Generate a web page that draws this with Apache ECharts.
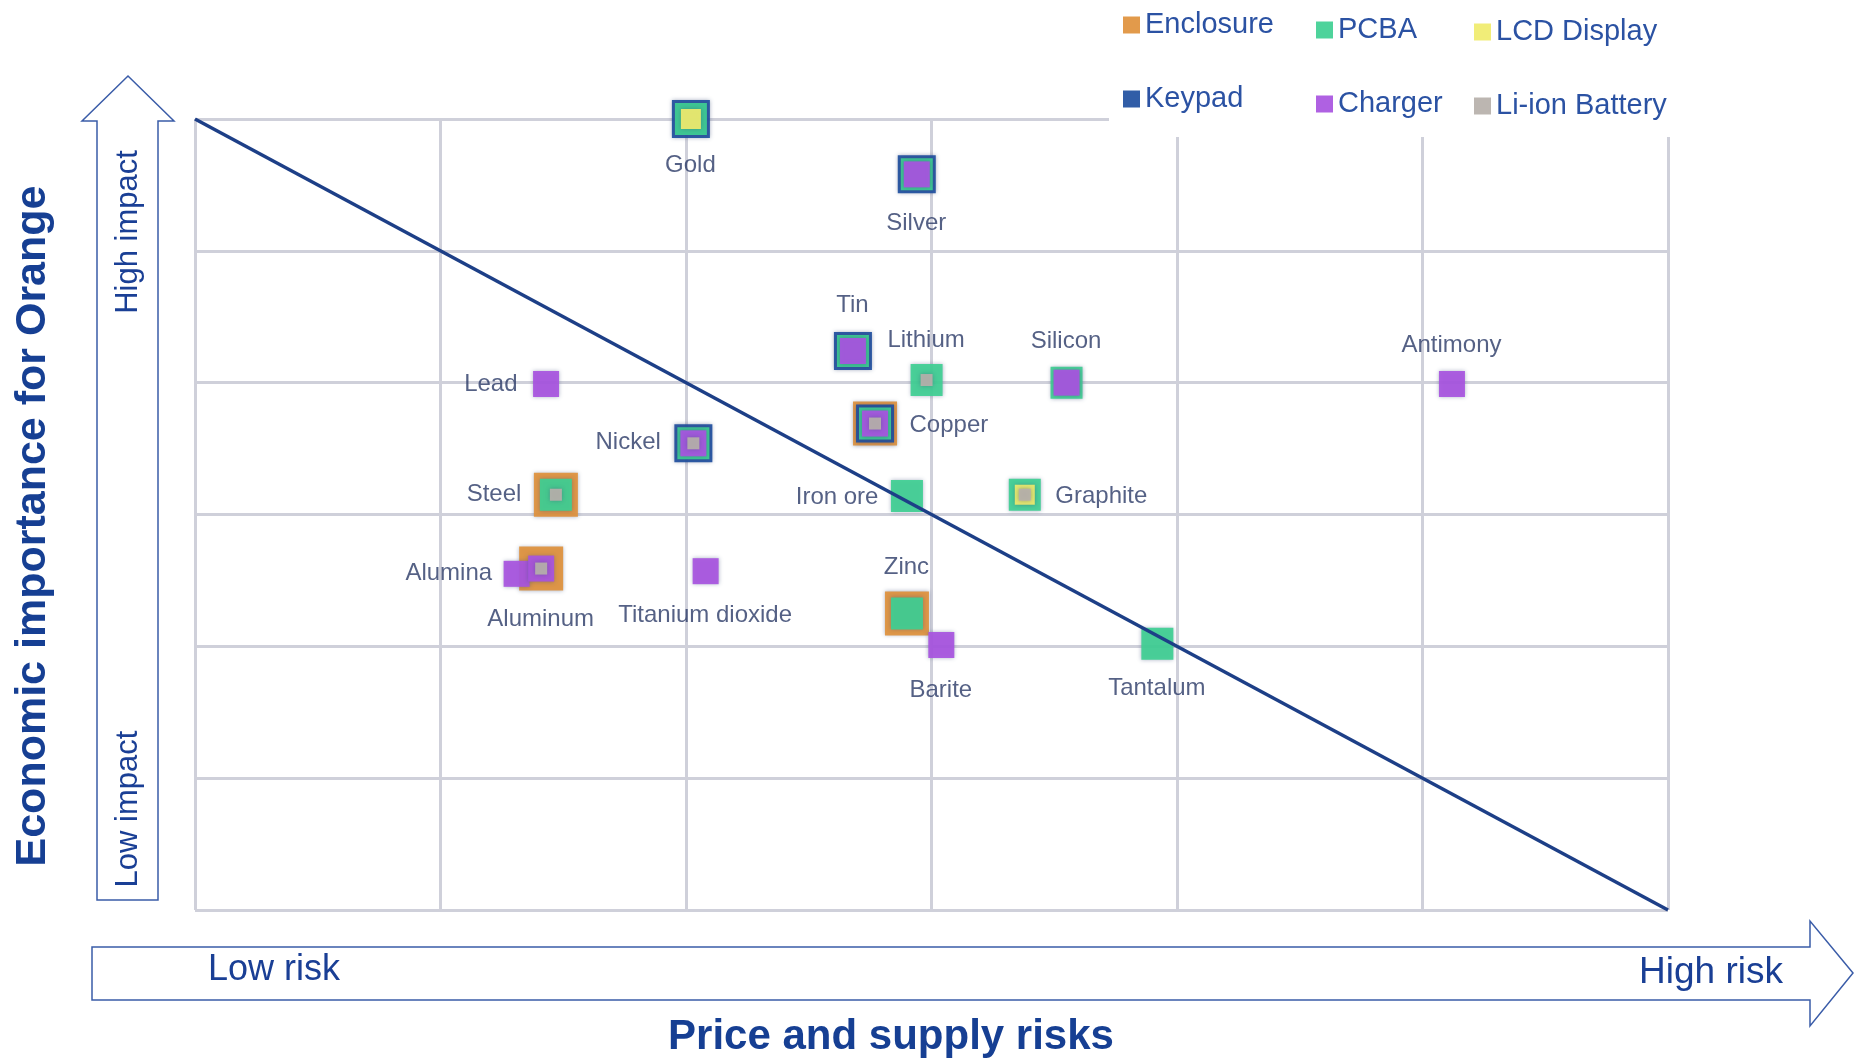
<!DOCTYPE html>
<html>
<head>
<meta charset="utf-8">
<title>Critical materials matrix</title>
<script src="https://cdn.jsdelivr.net/npm/echarts@6/dist/echarts.min.js"></script>
<style>
  html, body { margin: 0; padding: 0; background: #fff; }
  #main { width: 1854px; height: 1059px; }
</style>
</head>
<body>
<div id="main"></div>
<script>
// materials and where they sit (x = price & supply risk, y = economic importance)
const materials = ['Gold', 'Silver', 'Tin', 'Lithium', 'Silicon', 'Antimony', 'Lead', 'Copper', 'Nickel',
  'Steel', 'Iron ore', 'Graphite', 'Alumina', 'Aluminum', 'Titanium dioxide', 'Zinc', 'Barite', 'Tantalum'];
const riskX = [2.02, 2.94, 2.68, 2.98, 3.55, 5.12, 1.43, 2.77, 2.03,
  1.47, 2.9, 3.38, 1.31, 1.41, 2.08, 2.9, 3.04, 3.92];
const impactY = [6.0, 5.58, 4.24, 4.02, 4.0, 3.99, 3.99, 3.69, 3.54,
  3.15, 3.14, 3.15, 2.55, 2.59, 2.57, 2.25, 2.01, 2.02];

// which phone parts use each material
const enclosureItems = ['Copper', 'Steel', 'Aluminum', 'Zinc'];
const keypadItems = ['Gold', 'Silver', 'Tin', 'Copper', 'Nickel'];
const pcbaItems = ['Gold', 'Silver', 'Tin', 'Lithium', 'Silicon', 'Copper', 'Nickel', 'Steel',
  'Iron ore', 'Graphite', 'Zinc', 'Tantalum'];
const chargerItems = ['Silver', 'Tin', 'Silicon', 'Antimony', 'Lead', 'Copper', 'Nickel', 'Alumina',
  'Aluminum', 'Titanium dioxide', 'Barite'];
const lcdItems = ['Gold', 'Graphite'];
const liionItems = ['Lithium', 'Copper', 'Nickel', 'Steel', 'Graphite', 'Aluminum'];

// dividing diagonal
const diagonal = [[0, 6], [6, 0]];
const ticks = [0, 1, 2, 3, 4, 5, 6];

// label placement: [align, dx, dy]
const labelPlace = {
  'Gold': ['center', 0, 47],
  'Silver': ['center', 0, 50],
  'Tin': ['center', 0, -45],
  'Lithium': ['center', 0, -39],
  'Silicon': ['center', 0, -41],
  'Antimony': ['center', 0, -38],
  'Lead': ['right', -28, 1],
  'Copper': ['left', 35, 2],
  'Nickel': ['right', -32, 0],
  'Steel': ['right', -34, 0],
  'Iron ore': ['right', -28, 2],
  'Graphite': ['left', 31, 2],
  'Alumina': ['right', -24, 0],
  'Aluminum': ['center', 0, 51],
  'Titanium dioxide': ['center', 0, 45],
  'Zinc': ['center', 0, -46],
  'Barite': ['center', 0, 46],
  'Tantalum': ['center', 0, 45]
};

const FONT = 'Liberation Sans, Arial, sans-serif';
const NAVY = '#163f93';

function pointsFor(list) {
  return list.map(function (name) {
    const i = materials.indexOf(name);
    return { name: name, value: [riskX[i], impactY[i]] };
  });
}

// one scatter layer per part, bigger squares drawn first
function partSeries(name, list, color, size) {
  return {
    name: name,
    type: 'scatter',
    symbol: 'rect',
    symbolSize: size,
    clip: false,
    itemStyle: {
      color: color,
      opacity: 0.92,
      shadowBlur: 4,
      shadowColor: 'rgba(60, 80, 120, 0.45)'
    },
    data: pointsFor(list)
  };
}

const labelData = materials.map(function (name, i) {
  const p = labelPlace[name];
  return {
    name: name,
    value: [riskX[i], impactY[i]],
    label: {
      show: true,
      position: [p[1], p[2]],
      align: p[0],
      verticalAlign: 'middle'
    }
  };
});

const legendText = { color: '#2b52a3', fontSize: 29, fontFamily: FONT, lineHeight: 30 };
function legendCol(left, top, names) {
  return {
    orient: 'vertical',
    left: left,
    top: top,
    z: 30,
    icon: 'rect',
    itemWidth: 17,
    itemHeight: 17,
    itemGap: 44,
    padding: 0,
    selectedMode: false,
    textStyle: legendText,
    data: names
  };
}

const myChart = echarts.init(document.getElementById('main'));
const option = {
  backgroundColor: '#fff',
  animation: false,
  legend: [
    legendCol(1123, 10, ['Enclosure', 'Keypad']),
    legendCol(1316, 15, ['PCBA', 'Charger']),
    legendCol(1474, 17, ['LCD Display', 'Li-ion Battery'])
  ],
  grid: { left: 195, top: 119, width: 1473, height: 791, outerBoundsMode: 'none' },
  xAxis: {
    type: 'value',
    min: ticks[0],
    max: ticks[ticks.length - 1],
    interval: 1,
    axisLine: { show: false },
    axisTick: { show: false },
    axisLabel: { show: false },
    splitLine: { lineStyle: { color: '#cfd0da', width: 3 } }
  },
  yAxis: {
    type: 'value',
    min: ticks[0],
    max: ticks[ticks.length - 1],
    interval: 1,
    axisLine: { show: false },
    axisTick: { show: false },
    axisLabel: { show: false },
    splitLine: { lineStyle: { color: '#cfd0da', width: 3 } }
  },
  graphic: [
    // white box behind the legend, it hides the top of the grid
    { type: 'rect', z: 10, shape: { x: 1109, y: 0, width: 745, height: 137 }, style: { fill: '#fff' } },
    // up arrow
    {
      type: 'polygon', z: 1,
      shape: { points: [[97, 900], [97, 121], [82, 121], [128, 76], [174, 121], [158, 121], [158, 900]] },
      style: { fill: '#fff', stroke: '#3a5ca8', lineWidth: 1.5 }
    },
    // right arrow
    {
      type: 'polygon', z: 1,
      shape: { points: [[92, 947], [1810, 947], [1810, 921], [1853, 973], [1810, 1026], [1810, 1000], [92, 1000]] },
      style: { fill: '#fff', stroke: '#3a5ca8', lineWidth: 1.5 }
    },
    // axis titles
    {
      type: 'text', z: 5, x: 33, y: 526, rotation: Math.PI / 2,
      style: { text: 'Economic importance for Orange', fill: NAVY, font: 'bold 43px ' + FONT, align: 'center', verticalAlign: 'middle' }
    },
    {
      type: 'text', z: 5, x: 891, y: 1037,
      style: { text: 'Price and supply risks', fill: NAVY, font: 'bold 42px ' + FONT, align: 'center', verticalAlign: 'middle' }
    },
    {
      type: 'text', z: 5, x: 128, y: 232, rotation: Math.PI / 2,
      style: { text: 'High impact', fill: '#1a3f95', font: '31px ' + FONT, align: 'center', verticalAlign: 'middle' }
    },
    {
      type: 'text', z: 5, x: 128, y: 809, rotation: Math.PI / 2,
      style: { text: 'Low impact', fill: '#1a3f95', font: '31px ' + FONT, align: 'center', verticalAlign: 'middle' }
    },
    {
      type: 'text', z: 5, x: 208, y: 970,
      style: { text: 'Low risk', fill: '#1a3f95', font: '36px ' + FONT, align: 'left', verticalAlign: 'middle' }
    },
    {
      type: 'text', z: 5, x: 1783, y: 973,
      style: { text: 'High risk', fill: '#1a3f95', font: '37px ' + FONT, align: 'right', verticalAlign: 'middle' }
    }
  ],
  series: [
    {
      name: 'diagonal',
      type: 'line',
      data: diagonal,
      symbol: 'none',
      silent: true,
      lineStyle: { color: '#1d3f87', width: 3.5 }
    },
    partSeries('Enclosure', enclosureItems, '#e0913c', 44),
    partSeries('Keypad', keypadItems, '#1f4f9f', 38),
    partSeries('PCBA', pcbaItems, '#3fcf92', 32),
    partSeries('Charger', chargerItems, '#a854df', 26),
    partSeries('LCD Display', lcdItems, '#f0ec6c', 20),
    partSeries('Li-ion Battery', liionItems, '#b6b0aa', 12),
    {
      name: 'names',
      type: 'scatter',
      symbolSize: 1,
      clip: false,
      itemStyle: { color: 'rgba(0,0,0,0)' },
      label: { color: '#2b3a67', fontSize: 24, fontFamily: FONT, formatter: '{b}' },
      data: labelData
    }
  ]
};
myChart.setOption(option);
</script>
</body>
</html>
